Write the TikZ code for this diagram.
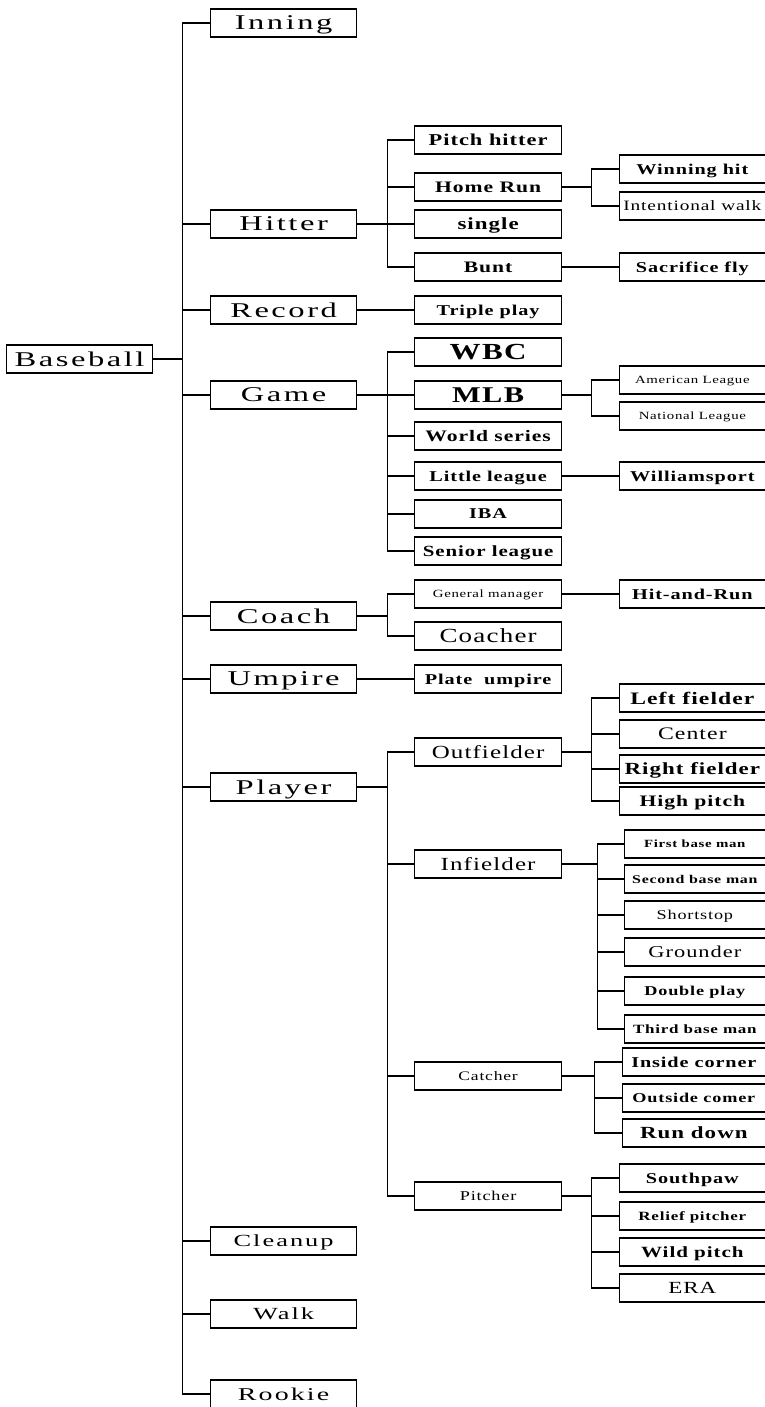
\documentclass[tikz,border=0pt]{standalone}
\usepackage{fontspec}
\setmainfont{Liberation Serif}
\newfontfamily\widefont[FakeStretch=1.55,LetterSpace=12]{Liberation Serif}
\newfontfamily\tallfont[FakeStretch=1.35,LetterSpace=6]{Liberation Serif}
\newcommand{\fsz}[1]{\fontsize{#1}{#1}\selectfont}
\newcommand{\topf}[1]{\widefont\fsz{#1}}
\newcommand{\regf}[1]{\tallfont\fsz{#1}}
\newcommand{\boldf}[1]{\tallfont\bfseries\fsz{#1}}
\begin{document}
\begin{tikzpicture}[x=1pt,y=-1pt,
    box/.style={draw,line width=1.2pt,rectangle,anchor=west,minimum height=28pt,inner sep=0pt,text depth=0pt},
    wide/.style={box,minimum width=146pt},
    infbox/.style={box,minimum width=140.5pt},
    catbox/.style={box,minimum width=142.5pt},
    link/.style={line width=1.1pt}]
        %% Page
        \fill[white] (0,0) rectangle (765,1407);
        \useasboundingbox (0,0) rectangle (765,1407);
        %% Root
        \node[wide,font=\topf{21}] (baseball) at (6,359) {Baseball};
        %% First level
        \node[wide,font=\topf{21}] (inning) at (210,23) {Inning};
        \node[wide,font=\topf{21}] (hitter) at (210,224) {Hitter};
        \node[wide,font=\topf{21}] (record) at (210,310) {Record};
        \node[wide,font=\topf{21}] (game) at (210,395) {Game};
        \node[wide,font=\topf{21}] (coach) at (210,616) {Coach};
        \node[wide,font=\topf{21}] (umpire) at (210,679) {Umpire};
        \node[wide,font=\topf{21}] (player) at (210,787) {Player};
        \node[wide,font=\topf{17}] (cleanup) at (210,1241) {Cleanup};
        \node[wide,font=\topf{17}] (walk) at (210,1314) {Walk};
        \node[wide,font=\topf{18}] (rookie) at (210,1394) {Rookie};
        %% Second level
        \node[wide,minimum width=147pt,font=\boldf{16.6}] (pinch) at (414,140) {Pitch hitter};
        \node[wide,minimum width=147pt,font=\boldf{16}] (homerun) at (414,187) {Home Run};
        \node[wide,minimum width=147pt,font=\boldf{17}] (single) at (414,224) {single};
        \node[wide,minimum width=147pt,font=\boldf{16}] (bunt) at (414,267) {Bunt};
        \node[wide,minimum width=147pt,font=\boldf{15}] (triple) at (414,310) {Triple play};
        \node[wide,minimum width=147pt,font=\boldf{23}] (wbc) at (414,352) {WBC};
        \node[wide,minimum width=147pt,font=\boldf{22.5}] (mlb) at (414,395) {MLB};
        \node[wide,minimum width=147pt,font=\boldf{16}] (worldseries) at (414,436) {World series};
        \node[wide,minimum width=147pt,font=\boldf{15}] (littleleague) at (414,476) {Little league};
        \node[wide,minimum width=147pt,font=\boldf{15}] (iba) at (414,514) {IBA};
        \node[wide,minimum width=147pt,font=\boldf{15.5}] (senior) at (414,551) {Senior league};
        \node[wide,minimum width=147pt,font=\regf{11}] (gm) at (414,594) {General manager};
        \node[wide,minimum width=147pt,font=\regf{20}] (coacher) at (414,636) {Coacher};
        \node[wide,minimum width=147pt,font=\boldf{15}] (plate) at (414,679) {Plate\ \ umpire};
        \node[wide,minimum width=147pt,font=\regf{18.5}] (outfielder) at (414,752) {Outfielder};
        \node[wide,minimum width=147pt,font=\regf{18.5}] (infielder) at (414,864) {Infielder};
        \node[wide,minimum width=147pt,font=\regf{13}] (catcher) at (414,1076) {Catcher};
        \node[wide,minimum width=147pt,font=\regf{13.5}] (pitcher) at (414,1196) {Pitcher};
        %% Third level
        \node[wide,minimum width=145.5pt,font=\boldf{15}] (winning) at (619,169) {Winning hit};
        \node[wide,minimum width=145.5pt,font=\regf{14.3}] (intentional) at (619,206) {Intentional walk};
        \node[wide,minimum width=145.5pt,font=\boldf{15}] (sacrifice) at (619,267) {Sacrifice fly};
        \node[wide,minimum width=145.5pt,font=\regf{11}] (american) at (619,380) {American League};
        \node[wide,minimum width=145.5pt,font=\regf{11}] (national) at (619,416) {National League};
        \node[wide,minimum width=145.5pt,font=\boldf{15}] (williamsport) at (619,476) {Williamsport};
        \node[wide,minimum width=145.5pt,font=\boldf{15}] (hitandrun) at (619,594) {Hit-and-Run};
        \node[wide,minimum width=145.5pt,font=\boldf{17.5}] (left) at (619,698) {Left fielder};
        \node[wide,minimum width=145.5pt,font=\regf{17.6}] (center) at (619,734) {Center};
        \node[wide,minimum width=145.5pt,font=\boldf{17}] (right) at (619,769) {Right fielder};
        \node[wide,minimum width=145.5pt,font=\boldf{16}] (high) at (619,801) {High pitch};
        \node[infbox,font=\boldf{11}] (first) at (624,844) {First base man};
        \node[infbox,font=\boldf{11.8}] (second) at (624,879) {Second base man};
        \node[infbox,font=\regf{13.5}] (shortstop) at (624,915) {Shortstop};
        \node[infbox,font=\regf{16.6}] (grounder) at (624,952) {Grounder};
        \node[infbox,font=\boldf{13.5}] (double) at (624,991) {Double play};
        \node[infbox,font=\boldf{12.6}] (third) at (624,1029) {Third base man};
        \node[catbox,font=\boldf{15}] (inside) at (622,1062) {Inside corner};
        \node[catbox,font=\boldf{13.5}] (outside) at (622,1098) {Outside comer};
        \node[catbox,font=\boldf{17}] (rundown) at (622,1133) {Run down};
        \node[wide,minimum width=145.5pt,font=\boldf{15}] (southpaw) at (619,1178) {Southpaw};
        \node[wide,minimum width=145.5pt,font=\boldf{12.6}] (relief) at (619,1216) {Relief pitcher};
        \node[wide,minimum width=145.5pt,font=\boldf{15.6}] (wild) at (619,1252) {Wild pitch};
        \node[wide,minimum width=145.5pt,font=\regf{17}] (era) at (619,1288) {ERA};
        %% Links
        \foreach \n in {inning,hitter,record,game,coach,umpire,player,cleanup,walk,rookie}
            \draw[link] (baseball.east) -- ++(29,0) |- (\n.west);
        \foreach \n in {pinch,homerun,single,bunt}
            \draw[link] (hitter.east) -- ++(30,0) |- (\n.west);
        \foreach \n in {wbc,mlb,worldseries,littleleague,iba,senior}
            \draw[link] (game.east) -- ++(30,0) |- (\n.west);
        \foreach \n in {gm,coacher}
            \draw[link] (coach.east) -- ++(30,0) |- (\n.west);
        \foreach \n in {outfielder,infielder,catcher,pitcher}
            \draw[link] (player.east) -- ++(30,0) |- (\n.west);
        \draw[link] (record.east) -- (triple.west);
        \draw[link] (umpire.east) -- (plate.west);
        \foreach \n in {winning,intentional}
            \draw[link] (homerun.east) -- ++(29,0) |- (\n.west);
        \draw[link] (bunt.east) -- (sacrifice.west);
        \foreach \n in {american,national}
            \draw[link] (mlb.east) -- ++(29,0) |- (\n.west);
        \draw[link] (littleleague.east) -- (williamsport.west);
        \draw[link] (gm.east) -- (hitandrun.west);
        \foreach \n in {left,center,right,high}
            \draw[link] (outfielder.east) -- ++(29,0) |- (\n.west);
        \foreach \n in {first,second,shortstop,grounder,double,third}
            \draw[link] (infielder.east) -- ++(35,0) |- (\n.west);
        \foreach \n in {inside,outside,rundown}
            \draw[link] (catcher.east) -- ++(32,0) |- (\n.west);
        \foreach \n in {southpaw,relief,wild,era}
            \draw[link] (pitcher.east) -- ++(29,0) |- (\n.west);
    \end{tikzpicture}
\end{document}
